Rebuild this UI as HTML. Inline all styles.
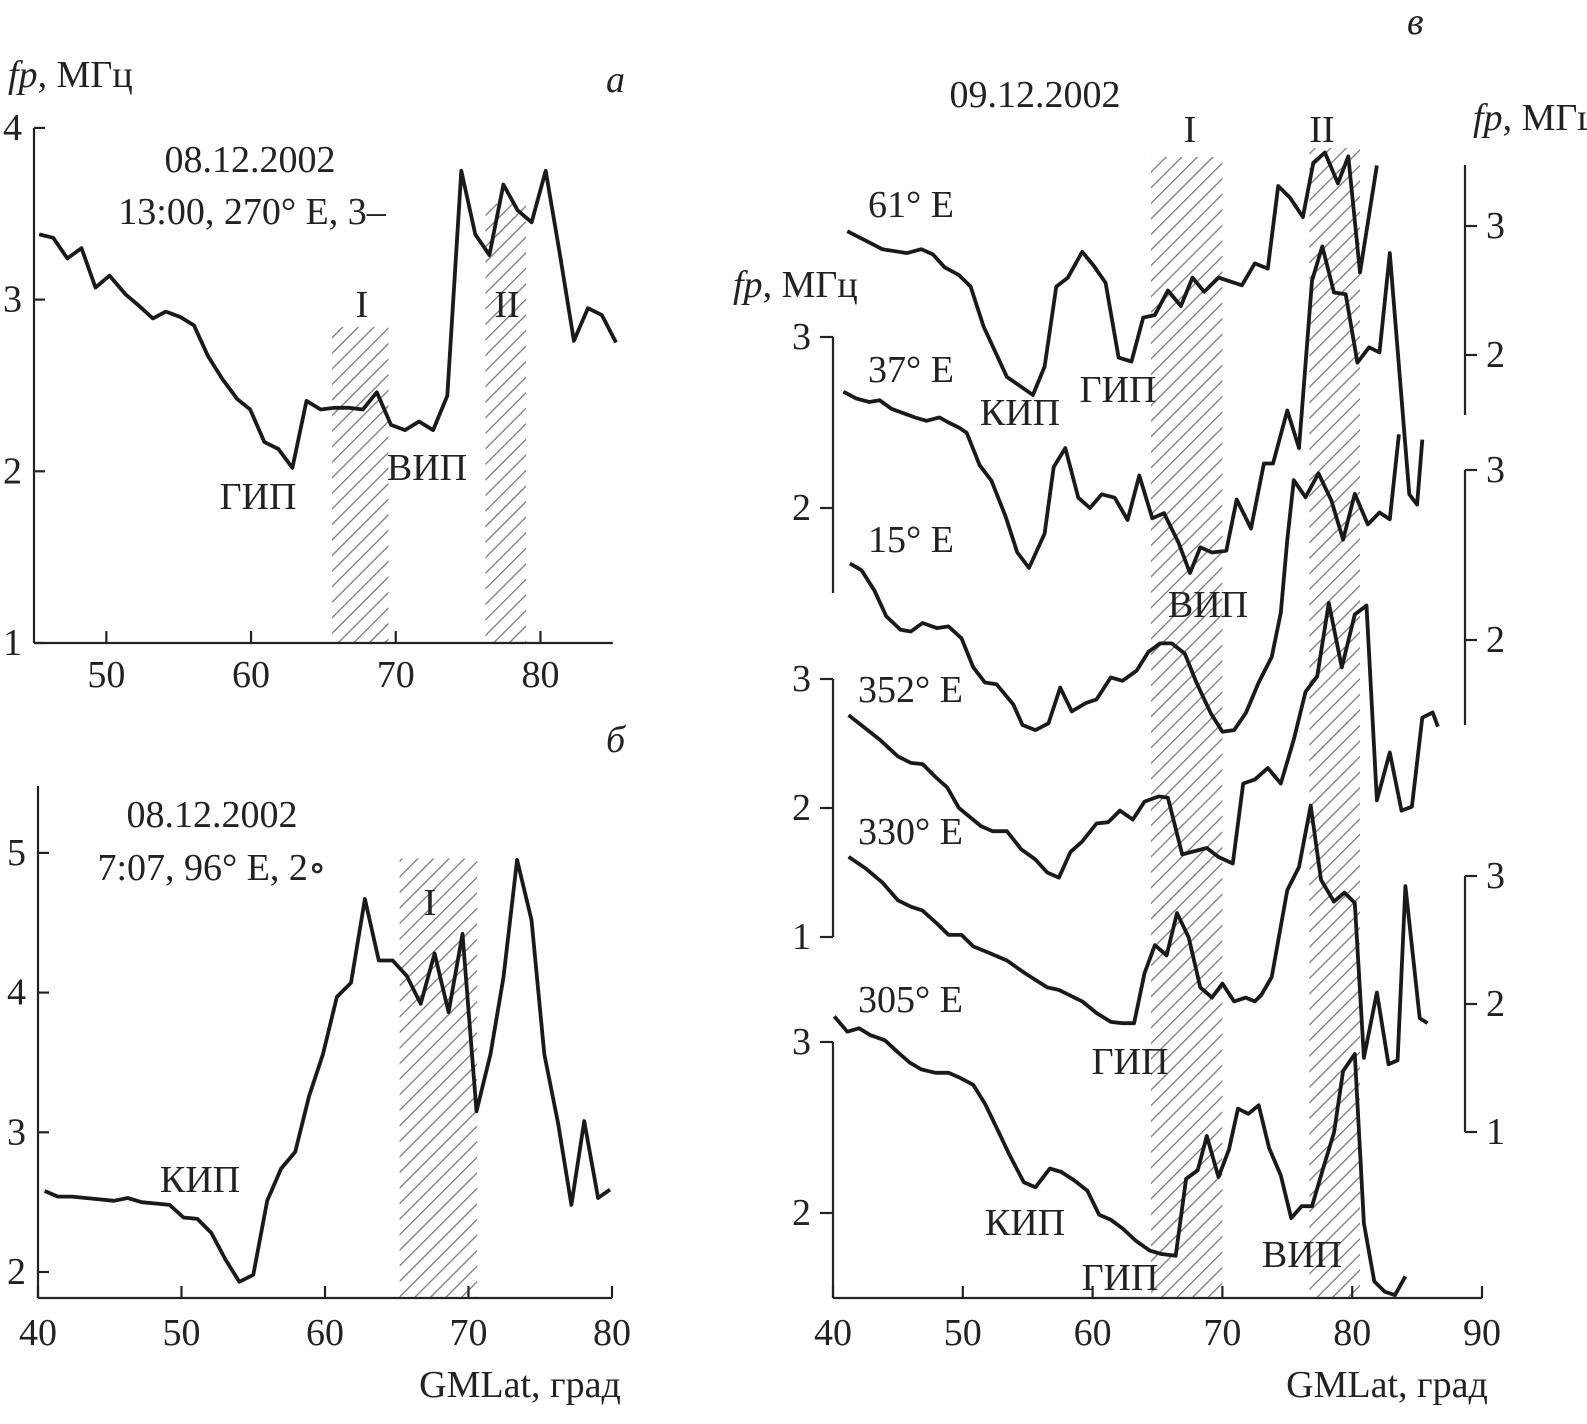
<!DOCTYPE html>
<html><head><meta charset="utf-8"><style>
html,body{margin:0;padding:0;background:#fff;}
svg{display:block;font-family:"Liberation Serif","DejaVu Serif",serif;}
.t{font-size:38px;fill:#222;}
.it{font-style:italic;}
</style></head><body>
<svg id="fig" width="1587" height="1424" viewBox="0 0 1587 1424" xmlns="http://www.w3.org/2000/svg">
<defs>
<pattern id="hatch" patternUnits="userSpaceOnUse" width="11" height="11" patternTransform="rotate(45)">
<line x1="0" y1="0" x2="0" y2="11" stroke="#7a7a7a" stroke-width="2.6"/>
</pattern>
</defs>
<g id="hatches"></g>
<g id="axes" stroke="#222" stroke-width="2.2" fill="none"></g>
<g id="lines" fill="none" stroke="#1a1a1a" stroke-width="3.8" stroke-linejoin="round"></g>
<g id="labels" class="t"></g>

<text class="t" x="8" y="87"><tspan class="it">fp</tspan>, МГц</text>
<text class="t it" x="606" y="92">а</text>
<text class="t" x="250" y="172" text-anchor="middle">08.12.2002</text>
<text class="t" x="252" y="224" text-anchor="middle">13:00, 270° E, 3–</text>
<text class="t" x="362" y="317" text-anchor="middle">I</text>
<text class="t" x="507" y="317" text-anchor="middle">II</text>
<text class="t" x="258" y="509" text-anchor="middle">ГИП</text>
<text class="t" x="427" y="480" text-anchor="middle">ВИП</text>

<text class="t it" x="606" y="752">б</text>
<text class="t" x="212" y="827" text-anchor="middle">08.12.2002</text>
<text class="t" x="212" y="880" text-anchor="middle">7:07, 96° E, 2∘</text>
<text class="t" x="430" y="915" text-anchor="middle">I</text>
<text class="t" x="200" y="1192" text-anchor="middle">КИП</text>
<text class="t" x="520" y="1397" text-anchor="middle">GMLat, град</text>

<text class="t it" x="1407" y="34">в</text>
<text class="t" x="1035" y="107" text-anchor="middle">09.12.2002</text>
<text class="t" x="733" y="297"><tspan class="it">fp</tspan>, МГц</text>
<text class="t" x="1473" y="130"><tspan class="it">fp</tspan>, МГц</text>
<text class="t" x="1190" y="142" text-anchor="middle">I</text>
<text class="t" x="1322" y="142" text-anchor="middle">II</text>
<text class="t" x="868" y="217">61° E</text>
<text class="t" x="868" y="382">37° E</text>
<text class="t" x="868" y="552">15° E</text>
<text class="t" x="858" y="702">352° E</text>
<text class="t" x="858" y="844">330° E</text>
<text class="t" x="858" y="1012">305° E</text>
<text class="t" x="1020" y="425" text-anchor="middle">КИП</text>
<text class="t" x="1118" y="402" text-anchor="middle">ГИП</text>
<text class="t" x="1208" y="617" text-anchor="middle">ВИП</text>
<text class="t" x="1130" y="1074" text-anchor="middle">ГИП</text>
<text class="t" x="1025" y="1235" text-anchor="middle">КИП</text>
<text class="t" x="1120" y="1290" text-anchor="middle">ГИП</text>
<text class="t" x="1302" y="1267" text-anchor="middle">ВИП</text>
<text class="t" x="1387" y="1397" text-anchor="middle">GMLat, град</text>
</svg>
<script>
const aLat = [45.36,46.33,47.31,48.28,49.25,50.22,51.33,52.31,53.22,54.11,55.08,56.06,57.03,58.0,59.06,59.94,60.92,61.89,62.86,63.83,64.81,65.78,66.75,67.72,68.69,69.67,70.64,71.61,72.58,73.56,74.53,75.5,76.47,77.44,78.42,79.39,80.36,81.33,82.31,83.28,84.25,85.22];
const aVal = [3.38,3.36,3.24,3.30,3.07,3.14,3.03,2.96,2.89,2.93,2.90,2.85,2.67,2.54,2.42,2.36,2.17,2.13,2.02,2.41,2.36,2.37,2.37,2.36,2.46,2.27,2.24,2.29,2.24,2.44,3.75,3.38,3.26,3.67,3.52,3.45,3.75,3.27,2.76,2.95,2.91,2.75];
const aXTicks = [50,60,70,80];
const aYTicks = [1,2,3,4];
const aHatch = [[65.6,69.5,2.84],[76.2,79.0,3.56]];
const bLat = [40.47,41.39,42.36,43.33,44.31,45.28,46.25,47.22,48.19,49.17,50.14,51.11,52.08,53.06,54.03,55.0,55.97,56.94,57.92,58.89,59.86,60.83,61.81,62.78,63.75,64.72,65.69,66.67,67.64,68.61,69.58,70.56,71.53,72.44,73.39,74.39,75.28,76.25,77.17,78.06,79.03,79.86];
const bVal = [2.58,2.54,2.54,2.53,2.52,2.51,2.53,2.50,2.49,2.48,2.39,2.38,2.28,2.09,1.93,1.98,2.51,2.74,2.86,3.26,3.56,3.97,4.07,4.67,4.23,4.23,4.12,3.92,4.28,3.86,4.42,3.15,3.56,4.11,4.95,4.52,3.56,3.06,2.48,3.08,2.53,2.59];
const bXTicks = [40,50,60,70,80];
const bYTicks = [2,3,4,5];
const bHatch = [[65.2,70.6,4.96]];
const cXTicks = [40,50,60,70,80,90];
const cHatch = [[64.5,70.0],[76.7,80.6]];
const lat61 = [41.1,43.8,45.7,46.8,47.7,48.6,49.7,50.6,51.6,53.4,55.4,56.3,57.2,58.1,59.2,60.1,61.0,62.0,63.0,63.9,64.8,65.8,66.8,67.7,68.6,69.7,71.5,72.5,73.5,74.3,75.2,76.2,77.0,77.9,78.9,79.7,80.6,81.9];
const val61 = [2.96,2.82,2.79,2.82,2.78,2.68,2.62,2.53,2.22,1.83,1.69,1.91,2.53,2.60,2.80,2.69,2.56,1.98,1.95,2.29,2.31,2.50,2.38,2.60,2.49,2.60,2.54,2.71,2.67,3.31,3.22,3.07,3.49,3.57,3.33,3.54,2.64,3.47];
const lat37 = [40.8,41.8,42.8,43.6,44.5,46.3,47.2,48.2,48.9,49.7,50.3,51.3,52.2,53.3,54.2,55.1,56.3,57.0,57.9,58.9,59.8,60.7,61.7,62.7,63.6,64.6,65.5,66.6,67.5,68.3,69.2,70.3,71.1,72.2,73.2,73.9,75.0,75.9,76.9,77.7,78.6,79.5,80.4,81.3,82.1,82.9,84.4,85.0,85.4];
const val37 = [2.68,2.64,2.62,2.63,2.58,2.53,2.51,2.53,2.50,2.47,2.44,2.25,2.16,1.95,1.74,1.65,1.85,2.24,2.35,2.06,2.00,2.08,2.06,1.93,2.19,1.94,1.97,1.80,1.62,1.77,1.74,1.75,2.05,1.88,2.26,2.26,2.57,2.35,3.33,3.53,3.26,3.25,2.85,2.94,2.91,3.49,2.08,2.02,2.40];
const lat15 = [41.3,42.2,43.2,44.1,45.2,46.0,46.9,48.0,48.9,49.9,50.8,51.7,52.6,53.9,54.6,55.6,56.6,57.5,58.4,59.5,60.3,61.4,62.3,63.4,64.3,65.2,66.1,67.1,68.0,69.1,70.0,70.9,71.8,72.8,73.8,74.5,75.0,75.5,76.4,77.4,78.4,79.3,80.2,81.2,82.1,82.9,83.6];
const val15 = [2.45,2.41,2.29,2.14,2.06,2.05,2.10,2.07,2.08,2.01,1.84,1.75,1.74,1.62,1.50,1.47,1.51,1.72,1.58,1.63,1.65,1.78,1.76,1.82,1.93,1.98,1.98,1.92,1.75,1.57,1.46,1.47,1.57,1.75,1.90,2.16,2.59,2.94,2.84,2.98,2.82,2.59,2.86,2.68,2.75,2.71,3.21];
const lat352 = [41.2,42.2,43.6,45.0,46.0,46.9,47.9,48.8,49.7,51.4,52.3,53.4,54.5,55.6,56.5,57.4,58.3,59.2,60.3,61.2,62.1,63.1,64.0,65.1,65.8,66.9,68.8,69.7,70.8,71.6,72.5,73.5,74.5,75.5,76.4,77.3,78.2,79.2,80.2,81.1,81.9,82.9,83.8,84.6,85.4,86.2,86.6];
const val352 = [2.72,2.64,2.53,2.40,2.35,2.34,2.24,2.16,2.00,1.86,1.82,1.82,1.68,1.60,1.50,1.46,1.66,1.74,1.88,1.89,1.98,1.91,2.05,2.09,2.08,1.64,1.69,1.62,1.57,2.19,2.22,2.31,2.19,2.53,2.90,3.02,3.59,3.09,3.50,3.57,2.06,2.43,1.98,2.01,2.70,2.74,2.63];
const lat330 = [41.2,42.5,43.8,45.0,46.0,46.9,48.0,48.9,49.9,50.8,52.0,53.4,54.8,56.5,57.4,59.2,60.3,61.4,62.3,63.2,64.0,64.8,65.7,66.5,67.4,68.3,69.2,70.0,70.9,71.8,72.5,73.0,73.8,75.0,75.9,76.8,77.6,78.6,79.4,80.2,80.9,81.9,82.8,83.5,84.1,85.2,85.8];
const val330 = [3.15,3.06,2.95,2.81,2.76,2.73,2.63,2.54,2.54,2.45,2.40,2.34,2.24,2.13,2.11,2.02,1.93,1.86,1.85,1.85,2.24,2.46,2.38,2.71,2.52,2.13,2.05,2.16,2.02,2.05,2.02,2.07,2.21,2.89,3.07,3.55,2.97,2.80,2.87,2.79,1.58,2.09,1.53,1.56,2.92,1.89,1.85];
const lat305 = [40.1,41.1,42.0,42.9,44.0,45.0,45.9,46.8,47.9,48.9,49.8,50.8,51.7,52.6,53.6,54.7,55.6,56.7,57.6,58.6,59.6,60.5,61.4,62.3,63.3,64.4,65.3,66.4,67.2,68.1,68.8,69.7,70.5,71.2,72.0,72.8,73.6,74.5,75.3,76.1,76.9,77.8,78.6,79.3,80.2,80.9,81.7,82.5,83.3,84.1];
const val305 = [3.15,3.06,3.08,3.04,3.01,2.94,2.88,2.84,2.82,2.82,2.79,2.75,2.64,2.50,2.34,2.18,2.15,2.26,2.24,2.19,2.13,1.99,1.96,1.91,1.84,1.78,1.76,1.75,2.20,2.25,2.45,2.21,2.37,2.61,2.58,2.63,2.38,2.22,1.97,2.04,2.04,2.27,2.47,2.83,2.93,1.94,1.60,1.54,1.52,1.63];

const NS = 'http://www.w3.org/2000/svg';
const xa = d => 34 + (d-45)*14.47, ya = v => 643 - (v-1)*171.7;
const xb = d => 38 + (d-40)*14.35, yb = v => 1272 - (v-2)*139.7;
const xc = d => 833 + (d-40)*12.98;
const mkY = (y3,k) => v => y3 - (v-3)*k;
const yRT = mkY(226,129), yLT = mkY(337,171), yRM = mkY(470,170), yLM = mkY(679,129), yRB = mkY(876,128), yLB = mkY(1042,171);

const gH = document.getElementById('hatches'), gA = document.getElementById('axes'), gL = document.getElementById('lines'), gT = document.getElementById('labels');
function el(tag, attrs, parent){ const e=document.createElementNS(NS,tag); for(const k in attrs) e.setAttribute(k,attrs[k]); parent.appendChild(e); return e; }
function line(x1,y1,x2,y2,name){
  const e = el('line',{x1:x1,y1:y1,x2:x2,y2:y2},gA);
  
  
}
function label(x,y,txt,anchor,name){
  const e = el('text',{x:x,y:y,'text-anchor':anchor},gT); e.textContent = txt;
  
  
}
function hatch(x1,y1,x2,y2,name){
  const e = el('rect',{x:x1,y:y1,width:x2-x1,height:y2-y1,fill:'url(#hatch)'},gH);
  
  
}
function series(lat,val,fx,fy,name){
  const e = el('polyline',{points: lat.map((d,i)=>fx(d).toFixed(1)+','+fy(val[i]).toFixed(1)).join(' ')},gL);
  
  
}

aHatch.forEach((h,i)=>hatch(xa(h[0]),ya(h[2]),xa(h[1]),ya(1),'panel-a-hatch-'+(i+1)));
line(xa(45),ya(4),xa(45),ya(1),'panel-a-y-axis');
line(xa(45),ya(1),xa(85),ya(1),'panel-a-x-axis');
aYTicks.forEach(v=>{ line(xa(45),ya(v),xa(45)+11,ya(v),'panel-a-y-tick'); label(xa(45)-12,ya(v)+12,String(v),'end','panel-a-y-tick-label'); });
aXTicks.forEach(d=>{ line(xa(d),ya(1),xa(d),ya(1)-12,'panel-a-x-tick'); label(xa(d),ya(1)+44,String(d),'middle','panel-a-x-tick-label'); });
series(aLat,aVal,xa,ya,'panel-a-line');

bHatch.forEach((h,i)=>hatch(xb(h[0]),yb(h[2]),xb(h[1]),1298,'panel-b-hatch-'+(i+1)));
line(xb(40),786,xb(40),1298,'panel-b-y-axis');
line(xb(40),1298,xb(80),1298,'panel-b-x-axis');
bYTicks.forEach(v=>{ line(xb(40),yb(v),xb(40)+11,yb(v),'panel-b-y-tick'); label(xb(40)-12,yb(v)+12,String(v),'end','panel-b-y-tick-label'); });
bXTicks.forEach(d=>{ line(xb(d),1298,xb(d),1286,'panel-b-x-tick'); label(xb(d),1345,String(d),'middle','panel-b-x-tick-label'); });
series(bLat,bVal,xb,yb,'panel-b-line');

hatch(xc(cHatch[0][0]),157,xc(cHatch[0][1]),1298,'panel-c-hatch-i');
hatch(xc(cHatch[1][0]),148,xc(cHatch[1][1]),1298,'panel-c-hatch-ii');
line(xc(40),1298,xc(90),1298,'panel-c-x-axis');
cXTicks.forEach(d=>{ line(xc(d),1298,xc(d),1286,'panel-c-x-tick'); label(xc(d),1345,String(d),'middle','panel-c-x-tick-label'); });
[[yLT,[3,2],593],[yLM,[3,2,1],937],[yLB,[3,2],1298]].forEach((a,i)=>{
  const f=a[0]; line(xc(40),f(3),xc(40),a[2],'panel-c-left-axis-'+(i+1));
  a[1].forEach(v=>{ line(xc(40)-13,f(v),xc(40),f(v),'panel-c-left-tick'); label(xc(40)-22,f(v)+12,String(v),'end','panel-c-left-tick-label'); });
});
[[yRT,[3,2],165,415],[yRM,[3,2],470,725],[yRB,[3,2,1],876,1132]].forEach((a,i)=>{
  const f=a[0]; line(1465,a[2],1465,a[3],'panel-c-right-axis-'+(i+1));
  a[1].forEach(v=>{ line(1465,f(v),1477,f(v),'panel-c-right-tick'); label(1486,f(v)+12,String(v),'start','panel-c-right-tick-label'); });
});
series(lat61,val61,xc,yRT,'line-61e');
series(lat37,val37,xc,yLT,'line-37e');
series(lat15,val15,xc,yRM,'line-15e');
series(lat352,val352,xc,yLM,'line-352e');
series(lat330,val330,xc,yRB,'line-330e');
series(lat305,val305,xc,yLB,'line-305e');
</script>
</body></html>
